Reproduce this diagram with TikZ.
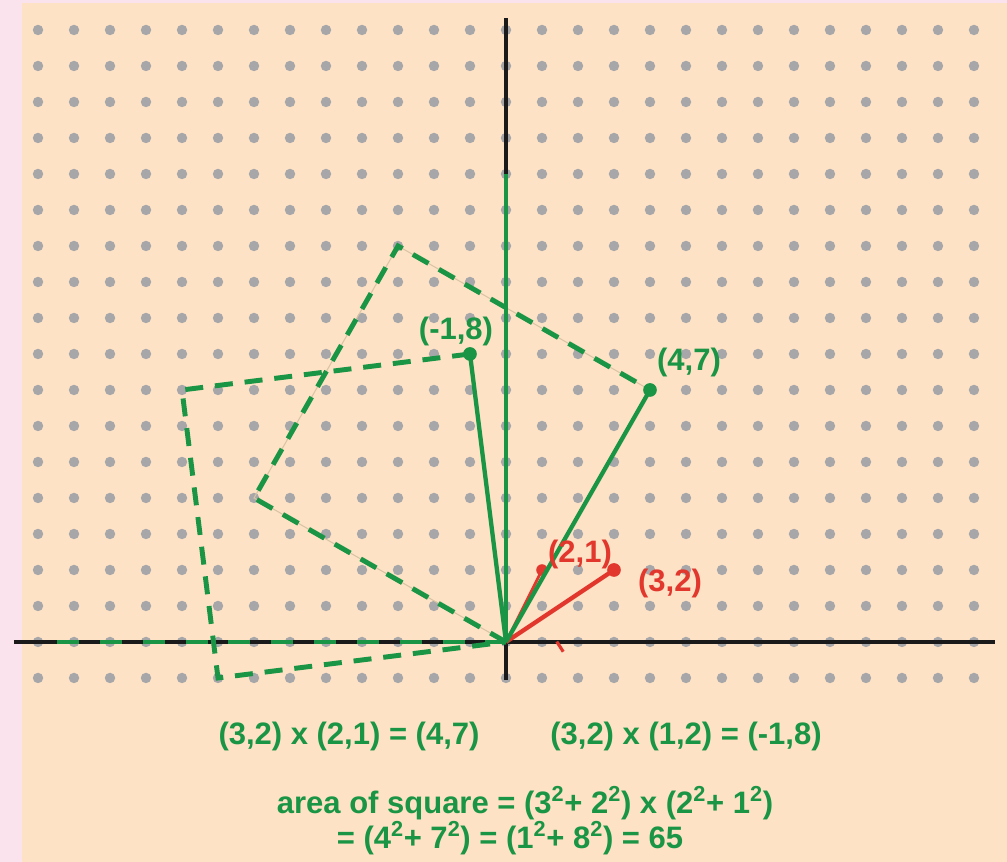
\documentclass[tikz,border=0pt]{standalone}
\usepackage{fontspec}
\setsansfont{Liberation Sans}
\usepackage{tikz}
\definecolor{pagebg}{HTML}{FDE2C6}
\definecolor{edgepink}{HTML}{FBE3EE}
\definecolor{dotgrey}{HTML}{A7A7A9}
\definecolor{leafgreen}{HTML}{1A9445}
\definecolor{brick}{HTML}{E2372C}
\definecolor{guide}{HTML}{D8C3A2}
\definecolor{axisink}{HTML}{1A1A1A}
\tikzset{
  lbl/.style={font=\sffamily\bfseries\fontsize{24.5}{28}\selectfont, inner sep=0pt, text=#1},
  lbl/.default=leafgreen,
  axisline/.style={line width=3.4pt, draw=axisink},
  vec/.style={line width=3.4pt, draw=#1},
  sqedge/.style={line width=3.9pt, draw=leafgreen, dash pattern=on 0.5cm off 0.33cm},
  guideline/.style={line width=0.8pt, draw=guide},
  tip/.style={fill=#1},
}

\begin{document}
\begin{tikzpicture}[x=1cm,y=1cm]
  \useasboundingbox (-14.056,-6.111) rectangle (13.917,17.833);
  \fill[edgepink] (-14.056,-6.111) rectangle (13.917,17.833);
  \fill[pagebg] (-13.444,-6.111) rectangle (13.917,17.75);

  % dot lattice
  \foreach \x in {-13,...,13} {
    \foreach \y in {-1,...,17} {
      \fill[dotgrey] (\x,\y) circle (0.145);
    }
  }

  \coordinate (O) at (0,0);
  \coordinate (P) at (4,7);
  \coordinate (Q) at (-1,8);
  \coordinate (Ptop) at (-3,11);
  \coordinate (Pleft) at (-7,4);
  \coordinate (Qtop) at (-9,7);
  \coordinate (Qlow) at (-8,-1);
  \coordinate (R) at (3,2);
  \coordinate (S) at (1,2);
  \coordinate (T) at (0,13);
  \coordinate (xl) at (-13.667,0);
  \coordinate (xr) at (13.583,0);
  \coordinate (yt) at (0,17.333);
  \coordinate (yb) at (0,-1.056);
  \coordinate (dl) at (-12.47,0);
  \coordinate (tka) at (1.41,0.01);
  \coordinate (tkb) at (1.59,-0.27);

  % axes
  \draw[axisline] (xl) -- (xr);
  \draw[axisline] (yb) -- (yt);

  % the two squares
  \draw[guideline] (O) -- (Pleft) -- (Ptop) -- (P);
  \draw[sqedge] (O) -- (Pleft) -- (Ptop) -- (P);
  \draw[sqedge] (Q) -- (Qtop) -- (Qlow) -- (O);
  \draw[leafgreen, line width=3.9pt, dash pattern=on 0.61cm off 0.58cm] (dl) -- (O);
  \draw[vec=leafgreen] (O) -- (T);

  % red factors
  \draw[brick, line width=2.2pt] (O) -- (S);
  \draw[vec=brick] (O) -- (R);
  \draw[brick, line width=2.5pt] (tka) -- (tkb);
  \fill[tip=brick] (S) circle (0.16);
  \fill[tip=brick] (R) circle (0.19);

  % green products
  \draw[vec=leafgreen] (O) -- (P);
  \draw[vec=leafgreen] (O) -- (Q);
  \fill[tip=leafgreen] (P) circle (0.19);
  \fill[tip=leafgreen] (Q) circle (0.19);

  \node[lbl] (labQ) at (-1.389,8.611) {(-1,8)};
  \node[lbl] (labP) at (5.083,7.75) {(4,7)};
  \node[lbl=brick] (labS) at (2.056,2.417) {(2,1)};
  \node[lbl=brick] (labR) at (4.556,1.611) {(3,2)};

  \node[lbl] (prodA) at (-4.361,-2.639) {(3,2) x (2,1) = (4,7)};
  \node[lbl] (prodB) at (5.0,-2.639) {(3,2) x (1,2) = (-1,8)};
  \node[lbl] (areaA) at (0.528,-4.472) {area of square = (3\textsuperscript{2}+ 2\textsuperscript{2}) x (2\textsuperscript{2}+ 1\textsuperscript{2})};
  \node[lbl] (areaB) at (0.111,-5.444) {= (4\textsuperscript{2}+ 7\textsuperscript{2}) = (1\textsuperscript{2}+ 8\textsuperscript{2}) = 65};
\end{tikzpicture}
\end{document}
